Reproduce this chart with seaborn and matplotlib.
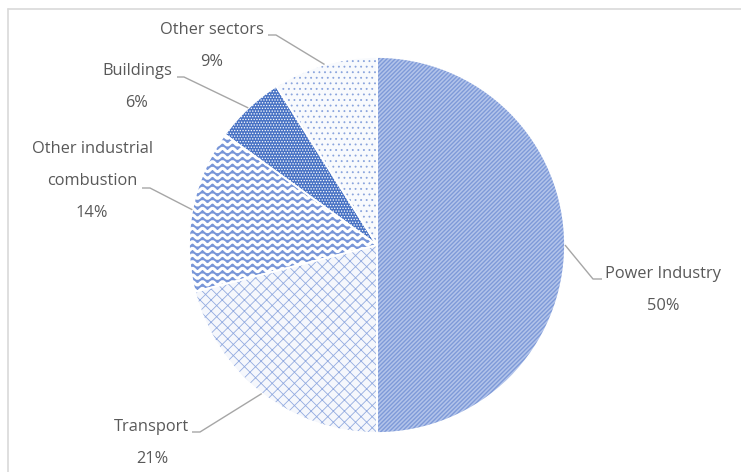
import warnings
import numpy as np
import matplotlib
matplotlib.use("Agg")
import matplotlib.pyplot as plt
import matplotlib.hatch as mhatch
from matplotlib.path import Path
import seaborn as sns

# ---- data ----
sectors = ["Power Industry", "Transport", "Other industrial\ncombustion",
           "Buildings", "Other sectors"]
shares = [50, 21, 14, 6, 9]

# ---- style ----
face_colors = ["#b3c4ea", "#f5f7fc", "#7896d8", "#4872c4", "#f8fafd"]
hatch_colors = ["#7e9ad8", "#93abe0", "#ffffff", "#ffffff", "#8aa4dd"]
hatches = ["////////", "xxx", "~", "......", "..."]
hatch_lws = [1.0, 0.6, 2.2, 0.6, 0.6]


class WaveHatch(mhatch.HatchPatternBase):
    """Wavy horizontal lines for the '~' hatch character."""

    def __init__(self, hatch, density):
        self.num_lines = int(hatch.count("~") * density * 2.5)
        self.n_pts = 101
        self.num_vertices = self.num_lines * self.n_pts

    def set_vertices_and_codes(self, vertices, codes):
        steps, step = np.linspace(0.0, 1.0, self.num_lines, False, retstep=True)
        steps += step / 2.0
        x = np.linspace(0.0, 1.0, self.n_pts)
        amp = step * 0.25
        for i, y0 in enumerate(steps):
            sl = slice(i * self.n_pts, (i + 1) * self.n_pts)
            vertices[sl, 0] = x
            vertices[sl, 1] = y0 + amp * np.sin(2 * np.pi * 10 * x)
            codes[sl] = Path.LINETO
            codes[i * self.n_pts] = Path.MOVETO


mhatch._hatch_types.append(WaveHatch)

sns.set_theme(style="white")
plt.rcParams["font.family"] = ["Open Sans", "DejaVu Sans"]
plt.rcParams["hatch.linewidth"] = 0.8

W, H = 741, 472
fig = plt.figure(figsize=(W / 100, H / 100), dpi=100)
ax = fig.add_axes([0, 0, 1, 1])

C = (377, H - 245)
R = 188
common = dict(startangle=90, counterclock=False, center=C, radius=R)

base, _ = ax.pie(shares, colors=face_colors, wedgeprops=dict(linewidth=0), **common)
hatch_layer, _ = ax.pie(shares, colors=["none"] * len(shares),
                        wedgeprops=dict(linewidth=0), **common)
with warnings.catch_warnings():
    warnings.simplefilter("ignore")
    for w, hc, h, hl in zip(hatch_layer, hatch_colors, hatches, hatch_lws):
        w.set_edgecolor(hc)
        w.set_hatch(h)
        if hasattr(w, "set_hatch_linewidth"):
            w.set_hatch_linewidth(hl)
ax.pie(shares, colors=["none"] * len(shares),
       wedgeprops=dict(linewidth=1.3, edgecolor="white"), **common)

# ---- labels with leader lines (layout in pixel coords) ----
label_centers = [(663, 290), (152, 443), (92, 181), (137, 87), (212, 46)]
elbows = [((593, 279), (602, 279)), ((200, 432), (192, 432)),
          ((150, 188), (142, 188)), ((184, 77), (177, 77)),
          ((276, 35), (268, 35))]
line_color = "#a6a6a6"
text_color = "#595959"

for w, name, share, (lx, ly), (e1, e2) in zip(base, sectors, shares,
                                              label_centers, elbows):
    th = np.deg2rad((w.theta1 + w.theta2) / 2)
    px, py = C[0] + R * np.cos(th), C[1] + R * np.sin(th)
    ax.plot([px, e1[0], e2[0]], [py, H - e1[1], H - e2[1]],
            color=line_color, lw=1.0, solid_capstyle="butt", zorder=5)
    ax.text(lx, H - ly, f"{name}\n{share}%", ha="center", va="center",
            multialignment="center", linespacing=2.35, fontsize=11.8,
            color=text_color, zorder=6)

# ---- chart frame ----
ax.plot([8, W], [H - 9, H - 9], color="#d9d9d9", lw=1.2)
ax.plot([8, 8], [H - 9, 0], color="#d9d9d9", lw=1.2)

ax.set_xlim(0, W)
ax.set_ylim(0, H)
ax.set_aspect("auto")
ax.axis("off")

fig.savefig("out.png", dpi=100)
